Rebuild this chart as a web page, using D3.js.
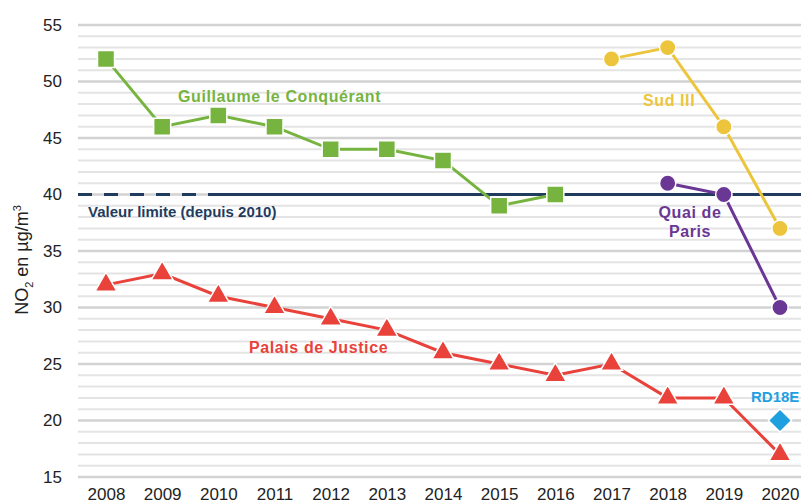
<!DOCTYPE html>
<html>
<head>
<meta charset="utf-8">
<script src="https://cdn.jsdelivr.net/npm/d3@7"></script>
<style>
  body { margin: 0; background: #fff; }
  svg { display: block; }
  .tick-label { font-family: "Liberation Sans", Arial, sans-serif; font-size: 17px; fill: #222; }
  .series-label { font-family: "Liberation Sans", Arial, sans-serif; font-size: 16px; font-weight: bold; letter-spacing: 0.6px; }
</style>
</head>
<body>
<div id="chart"></div>
<script>
var svgWidth = 801;
var svgHeight = 503;

// Data
var years = [2008, 2009, 2010, 2011, 2012, 2013, 2014, 2015, 2016, 2017, 2018, 2019, 2020];
var yTicks = [15, 20, 25, 30, 35, 40, 45, 50, 55];
var limitValue = 40;

var guillaumeYears = [2008, 2009, 2010, 2011, 2012, 2013, 2014, 2015, 2016];
var guillaumeValues = [52, 46, 47, 46, 44, 44, 43, 39, 40];

var palaisYears = [2008, 2009, 2010, 2011, 2012, 2013, 2014, 2015, 2016, 2017, 2018, 2019, 2020];
var palaisValues = [32, 33, 31, 30, 29, 28, 26, 25, 24, 25, 22, 22, 17];

var sudYears = [2017, 2018, 2019, 2020];
var sudValues = [52, 53, 46, 37];

var quaiYears = [2018, 2019, 2020];
var quaiValues = [41, 40, 30];

var rdYears = [2020];
var rdValues = [20];

var svg = d3.select("#chart")
  .append("svg")
  .attr("width", svgWidth)
  .attr("height", svgHeight);

var x = d3.scaleLinear().domain([2008, 2020]).range([106, 780]);
var y = d3.scaleLinear().domain([15, 55]).range([477, 25]);

// Grid lines every unit, darker every 5
var gridVals = d3.range(15, 56, 1);
svg.append("g")
  .selectAll("line")
  .data(gridVals)
  .enter()
  .append("line")
  .attr("x1", 78)
  .attr("x2", svgWidth)
  .attr("y1", d => y(d))
  .attr("y2", d => y(d))
  .attr("stroke", d => d % 5 === 0 ? "#d2d2d2" : "#e4e4e4")
  .attr("stroke-width", d => d % 5 === 0 ? 2.5 : 2);

// Y axis labels
var yAxis = d3.axisLeft(y).tickValues(yTicks).tickSize(0).tickPadding(0);
var yg = svg.append("g")
  .attr("transform", "translate(62,0)")
  .call(yAxis);
yg.select(".domain").remove();
yg.selectAll("text").attr("class", "tick-label").attr("font-size", null).attr("font-family", null);

// X axis labels
var xAxis = d3.axisBottom(x).tickValues(years).tickFormat(d3.format("d")).tickSize(0).tickPadding(0);
var xg = svg.append("g")
  .attr("transform", "translate(0,488)")
  .call(xAxis);
xg.select(".domain").remove();
xg.selectAll("text").attr("class", "tick-label").attr("font-size", null).attr("font-family", null);

// Y axis title
var title = svg.append("text")
  .attr("class", "tick-label")
  .attr("transform", "translate(28,260) rotate(-90)")
  .attr("text-anchor", "middle")
  .style("font-size", "18px");
title.append("tspan").text("NO");
title.append("tspan").text("2").attr("dy", 5).style("font-size", "11px");
title.append("tspan").text(" en µg/m").attr("dy", -5);
title.append("tspan").text("3").attr("dy", -7).style("font-size", "11px");

// Limit line: dashed before 2010, solid afterwards
var navy = "#1f3c5e";
svg.append("line")
  .attr("x1", 78).attr("x2", 214)
  .attr("y1", y(limitValue)).attr("y2", y(limitValue))
  .attr("stroke", navy).attr("stroke-width", 3)
  .attr("stroke-dasharray", "14,12");
svg.append("line")
  .attr("x1", 214).attr("x2", svgWidth)
  .attr("y1", y(limitValue)).attr("y2", y(limitValue))
  .attr("stroke", navy).attr("stroke-width", 3);

function drawSeries(xs, vals, color, shape, size, rot) {
  var pts = xs.map((d, i) => [x(d), y(vals[i])]);
  svg.append("path")
    .attr("d", d3.line()(pts))
    .attr("fill", "none")
    .attr("stroke", color)
    .attr("stroke-width", 3);
  svg.append("g")
    .selectAll("path")
    .data(pts)
    .enter()
    .append("path")
    .attr("transform", d => `translate(${d[0]},${d[1]}) rotate(${rot || 0})`)
    .attr("d", d3.symbol().type(shape).size(size))
    .attr("fill", color)
    .attr("stroke", "#fff")
    .attr("stroke-width", 1.5);
}

drawSeries(guillaumeYears, guillaumeValues, "#76b43f", d3.symbolSquare, 290);
drawSeries(palaisYears, palaisValues, "#e8423b", d3.symbolTriangle, 210);
drawSeries(sudYears, sudValues, "#ecc53c", d3.symbolCircle, 210);
drawSeries(quaiYears, quaiValues, "#6a3795", d3.symbolCircle, 210);
drawSeries(rdYears, rdValues, "#1ea0e0", d3.symbolSquare, 270, 45);

// Series labels
function label(txt, lx, ly, color, anchor, size) {
  var t = svg.append("text")
    .attr("class", "series-label")
    .attr("x", lx).attr("y", ly)
    .attr("text-anchor", anchor || "start")
    .attr("fill", color)
    .text(txt);
  if (size) t.style("font-size", size).style("letter-spacing", "0px");
}
label("Guillaume le Conquérant", 178, 102, "#76b43f");
label("Valeur limite (depuis 2010)", 88, 217, navy, "start", "15px");
label("Palais de Justice", 249, 353, "#e8423b");
label("Sud III", 643, 106, "#ecc53c");
label("Quai de", 690, 218, "#6a3795", "middle");
label("Paris", 690, 237, "#6a3795", "middle");
label("RD18E", 751, 402, "#1ea0e0", "start", "15px");
</script>
</body>
</html>
